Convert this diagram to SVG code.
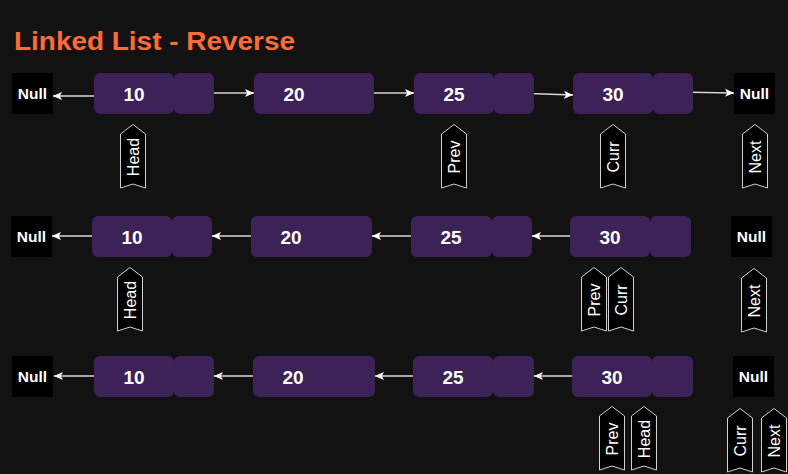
<svg xmlns="http://www.w3.org/2000/svg" xmlns:xlink="http://www.w3.org/1999/xlink" width="788" height="474" viewBox="0 0 788 474">
<style>
.bg{fill:#121212}
.cell{fill:#3c2257}
.nul{fill:#000}
.val{font-family:"Liberation Sans",Arial,sans-serif;font-weight:bold;font-size:19px;fill:#fff;text-anchor:middle}
.nt{font-family:"Liberation Sans",Arial,sans-serif;font-weight:bold;font-size:15.5px;fill:#fff;text-anchor:middle}
.tag{fill:#000;stroke:#d0d0d0;stroke-width:1}
.tt{font-family:"Liberation Sans",Arial,sans-serif;font-size:16px;fill:#fff;text-anchor:middle;dominant-baseline:central}
.ln{stroke:#d8d8d8;stroke-width:1.5;fill:none;marker-end:url(#ah)}
.title{font-family:"Liberation Sans",Arial,sans-serif;font-weight:bold;font-size:26px;fill:#ff6b35}
</style>
<defs>
<marker id="ah" markerUnits="userSpaceOnUse" markerWidth="10" markerHeight="9" refX="9" refY="4.5" orient="auto">
<path d="M0,0.5 L9,4.5 L0,8.5 L2.2,4.5 Z" fill="#fff"/>
</marker>
<path id="tagshape" class="tag" d="M0.5,10 L13,0.5 L25.5,10 L25.5,64 L13,60 L0.5,64 Z"/>
</defs>
<rect class="bg" x="0" y="0" width="788" height="474"/>
<text class="title" x="14" y="50" textLength="281" lengthAdjust="spacingAndGlyphs">Linked List - Reverse</text>

<g id="connectors">
<path class="ln" d="M110,96 L53,96"/>
<path class="ln" d="M194,93 L254,93"/>
<path class="ln" d="M350,93 L414,93"/>
<path class="ln" d="M514,93 L573,95"/>
<path class="ln" d="M675,92 L734,93"/>
<path class="ln" d="M110,236 L52,236"/>
<path class="ln" d="M272,236 L212,236"/>
<path class="ln" d="M432,236 L372,236"/>
<path class="ln" d="M592,236 L532,236"/>
<path class="ln" d="M112,376 L54,376"/>
<path class="ln" d="M274,376 L214,376"/>
<path class="ln" d="M434,376 L375,376"/>
<path class="ln" d="M595,376 L534,376"/>
</g>

<!-- Row 1 -->
<g id="r1-null-left"><rect class="nul" x="12" y="73" width="41" height="41"/><text class="nt" x="32.5" y="99">Null</text></g>
<g id="r1-n10"><rect class="cell" x="94" y="73" width="80" height="41" rx="6"/><rect class="cell" x="174" y="73" width="40" height="41" rx="6"/><text class="val" x="134" y="101">10</text></g>
<g id="r1-n20"><rect class="cell" x="254" y="73" width="120" height="41" rx="6"/><text class="val" x="294" y="101">20</text></g>
<g id="r1-n25"><rect class="cell" x="414" y="73" width="80" height="41" rx="6"/><rect class="cell" x="494" y="73" width="40" height="41" rx="6"/><text class="val" x="454" y="101">25</text></g>
<g id="r1-n30"><rect class="cell" x="573" y="73" width="80" height="41" rx="6"/><rect class="cell" x="653" y="73" width="40" height="41" rx="6"/><text class="val" x="613" y="101">30</text></g>
<g id="r1-null-right"><rect class="nul" x="734" y="73" width="41" height="41"/><text class="nt" x="754.5" y="99">Null</text></g>
<g id="r1-head"><use xlink:href="#tagshape" x="120" y="124"/><text class="tt" transform="translate(133,157) rotate(-90)">Head</text></g>
<g id="r1-prev"><use xlink:href="#tagshape" x="441" y="124"/><text class="tt" transform="translate(454,157) rotate(-90)">Prev</text></g>
<g id="r1-curr"><use xlink:href="#tagshape" x="600" y="124"/><text class="tt" transform="translate(613,157) rotate(-90)">Curr</text></g>
<g id="r1-next"><use xlink:href="#tagshape" x="742" y="124"/><text class="tt" transform="translate(755,157) rotate(-90)">Next</text></g>

<!-- Row 2 -->
<g id="r2-null-left"><rect class="nul" x="11" y="216" width="41" height="41"/><text class="nt" x="31.5" y="242">Null</text></g>
<g id="r2-n10"><rect class="cell" x="92" y="216" width="80" height="41" rx="6"/><rect class="cell" x="172" y="216" width="40" height="41" rx="6"/><text class="val" x="132" y="244">10</text></g>
<g id="r2-n20"><rect class="cell" x="251" y="216" width="121" height="41" rx="6"/><text class="val" x="291" y="244">20</text></g>
<g id="r2-n25"><rect class="cell" x="411" y="216" width="81" height="41" rx="6"/><rect class="cell" x="492" y="216" width="40" height="41" rx="6"/><text class="val" x="451" y="244">25</text></g>
<g id="r2-n30"><rect class="cell" x="570" y="216" width="80" height="41" rx="6"/><rect class="cell" x="650" y="216" width="41" height="41" rx="6"/><text class="val" x="610" y="244">30</text></g>
<g id="r2-null-right"><rect class="nul" x="731" y="216" width="41" height="41"/><text class="nt" x="751.5" y="242">Null</text></g>
<g id="r2-head"><use xlink:href="#tagshape" x="117" y="267"/><text class="tt" transform="translate(130,300) rotate(-90)">Head</text></g>
<g id="r2-prev"><use xlink:href="#tagshape" x="581" y="267"/><text class="tt" transform="translate(594,300) rotate(-90)">Prev</text></g>
<g id="r2-curr"><use xlink:href="#tagshape" x="608" y="267"/><text class="tt" transform="translate(621,300) rotate(-90)">Curr</text></g>
<g id="r2-next"><use xlink:href="#tagshape" x="741" y="268"/><text class="tt" transform="translate(754,301) rotate(-90)">Next</text></g>

<!-- Row 3 -->
<g id="r3-null-left"><rect class="nul" x="12" y="356" width="41" height="41"/><text class="nt" x="32.5" y="382">Null</text></g>
<g id="r3-n10"><rect class="cell" x="94" y="356" width="80" height="41" rx="6"/><rect class="cell" x="174" y="356" width="40" height="41" rx="6"/><text class="val" x="134" y="384">10</text></g>
<g id="r3-n20"><rect class="cell" x="253" y="356" width="122" height="41" rx="6"/><text class="val" x="293" y="384">20</text></g>
<g id="r3-n25"><rect class="cell" x="413" y="356" width="80" height="41" rx="6"/><rect class="cell" x="493" y="356" width="41" height="41" rx="6"/><text class="val" x="453" y="384">25</text></g>
<g id="r3-n30"><rect class="cell" x="572" y="356" width="80" height="41" rx="6"/><rect class="cell" x="652" y="356" width="41" height="41" rx="6"/><text class="val" x="612" y="384">30</text></g>
<g id="r3-null-right"><rect class="nul" x="733" y="356" width="41" height="41"/><text class="nt" x="753.5" y="382">Null</text></g>
<g id="r3-prev"><use xlink:href="#tagshape" x="599" y="406"/><text class="tt" transform="translate(612,439) rotate(-90)">Prev</text></g>
<g id="r3-head"><use xlink:href="#tagshape" x="631" y="406"/><text class="tt" transform="translate(644,439) rotate(-90)">Head</text></g>
<g id="r3-curr"><use xlink:href="#tagshape" x="727" y="408"/><text class="tt" transform="translate(740,441) rotate(-90)">Curr</text></g>
<g id="r3-next"><use xlink:href="#tagshape" x="761" y="408"/><text class="tt" transform="translate(774,441) rotate(-90)">Next</text></g>
</svg>
